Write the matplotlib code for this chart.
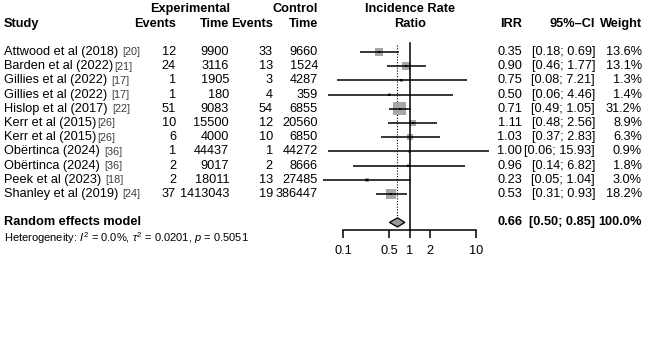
import numpy as np
import matplotlib
matplotlib.use("Agg")
import matplotlib.pyplot as plt
from matplotlib.transforms import blended_transform_factory
from matplotlib.ticker import NullLocator

plt.rcParams['font.family'] = ['Liberation Sans', 'DejaVu Sans']
plt.rcParams['mathtext.fontset'] = 'custom'
plt.rcParams['mathtext.rm'] = 'Liberation Sans'
plt.rcParams['mathtext.it'] = 'Liberation Sans:italic'

# data
studies = ["Attwood et al (2018)", "Barden et al (2022)", "Gillies et al (2022)",
           "Gillies et al (2022)", "Hislop et al (2017)", "Kerr et al (2015)",
           "Kerr et al (2015)", "Obërtinca (2024)", "Obërtinca (2024)",
           "Peek et al (2023)", "Shanley et al (2019)"]
refs = ["[20]", "[21]", "[17]", "[17]", "[22]", "[26]", "[26]", "[36]", "[36]", "[18]", "[24]"]
ref_gap = [3, 0.5, 3, 3, 3, 0.5, 0.5, 3, 3, 3, 3]
ev_e = [12, 24, 1, 1, 51, 10, 6, 1, 2, 2, 37]
time_e = [9900, 3116, 1905, 180, 9083, 15500, 4000, 44437, 9017, 18011, 1413043]
ev_c = [33, 13, 3, 4, 54, 12, 10, 1, 2, 13, 19]
time_c = [9660, 1524, 4287, 359, 6855, 20560, 6850, 44272, 8666, 27485, 386447]
irr = [0.35, 0.90, 0.75, 0.50, 0.71, 1.11, 1.03, 1.00, 0.96, 0.23, 0.53]
ci_lo = [0.18, 0.46, 0.08, 0.06, 0.49, 0.48, 0.37, 0.06, 0.14, 0.05, 0.31]
ci_hi = [0.69, 1.77, 7.21, 4.46, 1.05, 2.56, 2.83, 15.93, 6.82, 1.04, 0.93]
weight = [13.6, 13.1, 1.3, 1.4, 31.2, 8.9, 6.3, 0.9, 1.8, 3.0, 18.2]
pooled = 0.66
pooled_lo = 0.50
pooled_hi = 0.85
ticks = [0.1, 0.5, 1, 2, 10]

W, H = 669, 343
fig = plt.figure(figsize=(W / 100, H / 100), dpi=100)
fig.patch.set_facecolor('white')

# forest panel: 0.1 -> px 343, 10 -> px 476
ax_l, ax_r = 320, 500
dec = (476 - 343) / 2.0
x0 = 10 ** (-1 - (343 - ax_l) / dec)
x1 = 10 ** (1 + (ax_r - 476) / dec)
ax = fig.add_axes([ax_l / W, 0, (ax_r - ax_l) / W, 1])
ax.set_xscale('log')
ax.set_xlim(x0, x1)
row_px = 14.2
top_px = 52
ax.set_ylim((H - top_px) / row_px, -top_px / row_px)
ax.patch.set_alpha(0)

n = len(studies)
rows = np.arange(n)

for i in range(n):
    ax.plot([ci_lo[i], ci_hi[i]], [rows[i], rows[i]], color='black', lw=1.1,
            solid_capstyle='butt', zorder=3)
side_pt = 2.33 * np.sqrt(weight) * 0.72
ax.scatter(irr, rows, marker='s', s=side_pt ** 2, color='#a6a6a6', lw=0, zorder=2)
ax.scatter(irr, rows, marker='s', s=3, color='black', lw=0, zorder=4)

# pooled estimate
pr = 12
dh = 0.32
ax.fill([pooled_lo, pooled, pooled_hi, pooled], [pr, pr - dh, pr, pr + dh],
        facecolor='#999999', edgecolor='black', lw=0.9, zorder=3)
ax.plot([1, 1], [-0.6, 12.55], color='black', lw=1.1, zorder=2)
ax.plot([pooled, pooled], [-0.5, pr - dh], color='black', lw=0.8,
        ls=(0, (1, 1.5)), zorder=1)

for s in ['left', 'right', 'top']:
    ax.spines[s].set_visible(False)
ax.spines['bottom'].set_position(('data', 12.55))
ax.spines['bottom'].set_bounds(0.1, 10)
ax.spines['bottom'].set_linewidth(1.1)
ax.set_yticks([])
ax.set_xticks(ticks)
ax.set_xticklabels(['0.1', '0.5', '1', '2', '10'], fontsize=9.2)
ax.xaxis.set_minor_locator(NullLocator())
ax.tick_params(axis='x', direction='out', length=5.5, width=1.1, pad=5)

# text columns (x in figure pixels, y in rows)
tr = blended_transform_factory(fig.transFigure, ax.transData)
fs = 9.2


def txt(px, y, s, ha='left', **kw):
    return ax.text(px / W, y, s, transform=tr, ha=ha, va='center', fontsize=kw.pop('size', fs),
                   clip_on=False, **kw)


txt(230, -3.05, 'Experimental', ha='right', weight='bold')
txt(318, -3.05, 'Control', ha='right', weight='bold')
txt(410, -3.05, 'Incidence Rate', ha='center', weight='bold')
txt(4, -2.0, 'Study', weight='bold')
txt(176, -2.0, 'Events', ha='right', weight='bold')
txt(229, -2.0, 'Time', ha='right', weight='bold')
txt(273, -2.0, 'Events', ha='right', weight='bold')
txt(318, -2.0, 'Time', ha='right', weight='bold')
txt(410, -2.0, 'Ratio', ha='center', weight='bold')
txt(522, -2.0, 'IRR', ha='right', weight='bold')
txt(595, -2.0, '95%\u2013CI', ha='right', weight='bold')
txt(642, -2.0, 'Weight', ha='right', weight='bold')

for i in range(n):
    t = txt(4, rows[i], studies[i])
    ax.annotate(refs[i], xy=(1, 0.5), xycoords=t, xytext=(ref_gap[i], -0.3),
                textcoords='offset points', ha='left', va='center', fontsize=7.8,
                color='#3a3a3a')
    txt(176, rows[i], str(ev_e[i]), ha='right')
    txt(229, rows[i], str(time_e[i]), ha='right')
    txt(273, rows[i], str(ev_c[i]), ha='right')
    txt(318, rows[i], str(time_c[i]), ha='right')
    txt(522, rows[i], '%.2f' % irr[i], ha='right')
    txt(595, rows[i], '[%.2f; %.2f]' % (ci_lo[i], ci_hi[i]), ha='right')
    txt(642, rows[i], '%.1f%%' % weight[i], ha='right')

txt(4, pr, 'Random effects model', weight='bold')
txt(522, pr, '%.2f' % pooled, ha='right', weight='bold')
txt(595, pr, '[%.2f; %.2f]' % (pooled_lo, pooled_hi), ha='right', weight='bold')
txt(642, pr, '100.0%', ha='right', weight='bold')
txt(4, 13.1, r'Heterogeneity: $I^2$ = 0.0%, $\tau^2$ = 0.0201, $p$ = 0.5051', size=8.0)

fig.savefig('out.png', dpi=100)
